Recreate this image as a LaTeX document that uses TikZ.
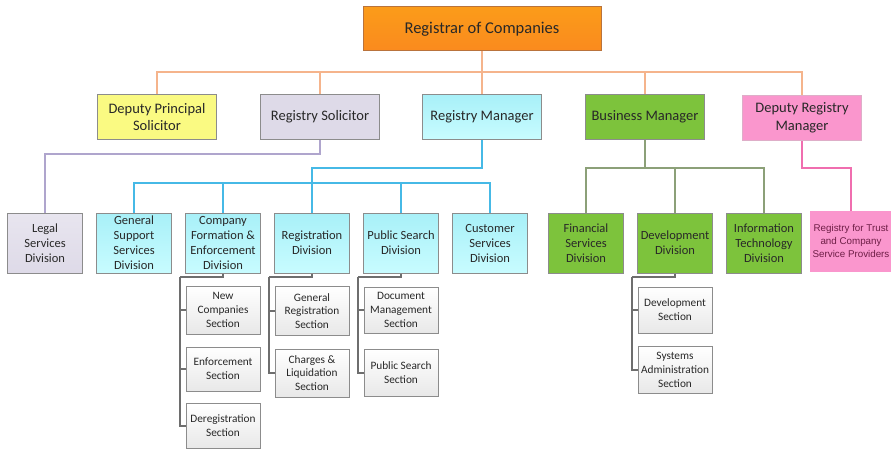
\documentclass[tikz,border=0pt]{standalone}
\usepackage{fontspec}
\setmainfont{Carlito}
\newfontfamily\arialfont{Liberation Sans}
\usepackage{xcolor}
\usepackage{tikz}

\definecolor{orgfill}{RGB}{250,138,30}
\definecolor{orgbord}{RGB}{185,115,60}
\definecolor{orgconn}{RGB}{245,180,140}
\definecolor{yelfill}{RGB}{250,250,130}
\definecolor{lavfill}{RGB}{222,218,232}
\definecolor{lavconn}{RGB}{175,165,205}
\definecolor{cyantop}{RGB}{168,240,248}
\definecolor{cyanbot}{RGB}{200,252,255}
\definecolor{cyanconn}{RGB}{70,185,230}
\definecolor{grnfill}{RGB}{125,195,60}
\definecolor{grnconn}{RGB}{140,160,120}
\definecolor{pinkfill}{RGB}{250,150,205}
\definecolor{pinkconn}{RGB}{240,110,175}
\definecolor{secfill}{RGB}{232,232,232}
\definecolor{secconn}{RGB}{110,110,110}
\definecolor{boxbord}{RGB}{140,140,140}
\definecolor{txt}{RGB}{40,40,40}

\tikzset{
  box/.style={rectangle,draw=boxbord,line width=1pt,align=center,inner sep=1pt,text=txt},
  topbox/.style={box,draw=orgbord,top color=orgfill!85!yellow,bottom color=orgfill,
    minimum width=238pt,minimum height=44pt,font=\fontsize{16.5}{19}\selectfont},
  mgr/.style={box,minimum width=119pt,minimum height=45pt,font=\fontsize{14.5}{17.5}\selectfont},
  divbox/.style={box,minimum width=75pt,minimum height=60pt,font=\fontsize{12.5}{15}\selectfont},
  cyanbox/.style={top color=cyantop,bottom color=cyanbot},
  secbox/.style={box,top color=white,bottom color=secfill,minimum width=74pt,minimum height=46pt,
    font=\fontsize{11.3}{13.8}\selectfont},
  conn/.style={line width=1.2pt},
}

\begin{document}
\begin{tikzpicture}[x=1pt,y=-1pt]
\useasboundingbox (0,0) rectangle (891,452);

% top
\node (roc) at (482,29) [topbox] {Registrar of Companies};

% managers
\node (dps) at (157,117) [mgr,fill=yelfill] {Deputy Principal\\Solicitor};
\node (rs)  at (320,117) [mgr,fill=lavfill] {Registry Solicitor};
\node (rm)  at (482,117) [mgr,cyanbox] {Registry Manager};
\node (bm)  at (645,117) [mgr,fill=grnfill] {Business Manager};
\node (drm) at (802,118) [mgr,fill=pinkfill,draw=pinkfill!80!black!60] {Deputy Registry\\Manager};

% divisions
\node (lsd) at (45,243)  [divbox,top color=lavfill!70,bottom color=lavfill] {Legal\\Services\\Division};
\node (gss) at (134,243) [divbox,cyanbox] {General\\Support\\Services\\Division};
\node (cfe) at (223,243) [divbox,cyanbox] {Company\\Formation \&\\Enforcement\\Division};
\node (rd)  at (312,243) [divbox,cyanbox] {Registration\\Division};
\node (psd) at (401,243) [divbox,cyanbox] {Public Search\\Division};
\node (csd) at (490,243) [divbox,cyanbox] {Customer\\Services\\Division};
\node (fsd) at (586,243) [divbox,fill=grnfill] {Financial\\Services\\Division};
\node (dd)  at (675,243) [divbox,fill=grnfill] {Development\\Division};
\node (itd) at (764,243) [divbox,fill=grnfill] {Information\\Technology\\Division};
\node (rtc) at (851,241) [divbox,minimum width=82pt,fill=pinkfill,draw=pinkfill,
  font=\arialfont\fontsize{9.8}{13}\selectfont,text={rgb,255:red,110;green,30;blue,70}]
  {Registry for Trust\\and Company\\Service Providers};

% sections
\node (nc)  at (223,310) [secbox,minimum height=48pt] {New\\Companies\\Section};
\node (es)  at (223,369) [secbox,minimum height=44pt] {Enforcement\\Section};
\node (drs) at (223,426) [secbox,minimum height=45pt] {Deregistration\\Section};
\node (grs) at (312,311) [secbox,minimum height=49pt] {General\\Registration\\Section};
\node (cls) at (312,373) [secbox,minimum height=48pt] {Charges \&\\Liquidation\\Section};
\node (dms) at (401,310) [secbox] {Document\\Management\\Section};
\node (pss) at (401,373) [secbox,minimum height=47pt] {Public Search\\Section};
\node (dvs) at (675,310) [secbox] {Development\\Section};
\node (sas) at (675,370) [secbox,minimum height=47pt] {Systems\\Administration\\Section};

% junctions
\coordinate (o) at (482,72);
\coordinate (s) at (320,154);
\coordinate (m) at (482,168);
\coordinate (c) at (312,183);
\coordinate (b) at (645,168);
\coordinate (p) at (802,168);
\coordinate (k1) at (180,277);
\coordinate (k2) at (269,277);
\coordinate (k3) at (358,277);
\coordinate (k4) at (632,277);

% top level lines
\draw [conn,orgconn] (roc) -- (rm);
\foreach \n in {dps,rs,bm,drm}
  \draw [conn,orgconn] (o) -| (\n.north);

\draw [conn,lavconn] (rs.south) -- (s) -| (lsd.north);

\draw [conn,cyanconn] (rm.south) -- (m) -| (c);
\foreach \n in {gss,cfe,rd,psd,csd}
  \draw [conn,cyanconn] (c) -| (\n.north);

\draw [conn,grnconn] (bm.south) -- (b);
\foreach \n in {fsd,dd,itd}
  \draw [conn,grnconn] (b) -| (\n.north);

\draw [conn,pinkconn] (drm.south) -- (p) -| (rtc.north);

% section brackets
\draw [conn,secconn] (cfe.south) |- (k1);
\foreach \n in {nc,es,drs}
  \draw [conn,secconn] (k1) |- (\n.west);
\draw [conn,secconn] (rd.south) |- (k2);
\foreach \n in {grs,cls}
  \draw [conn,secconn] (k2) |- (\n.west);
\draw [conn,secconn] (psd.south) |- (k3);
\foreach \n in {dms,pss}
  \draw [conn,secconn] (k3) |- (\n.west);
\draw [conn,secconn] (dd.south) |- (k4);
\foreach \n in {dvs,sas}
  \draw [conn,secconn] (k4) |- (\n.west);
\end{tikzpicture}
\end{document}
